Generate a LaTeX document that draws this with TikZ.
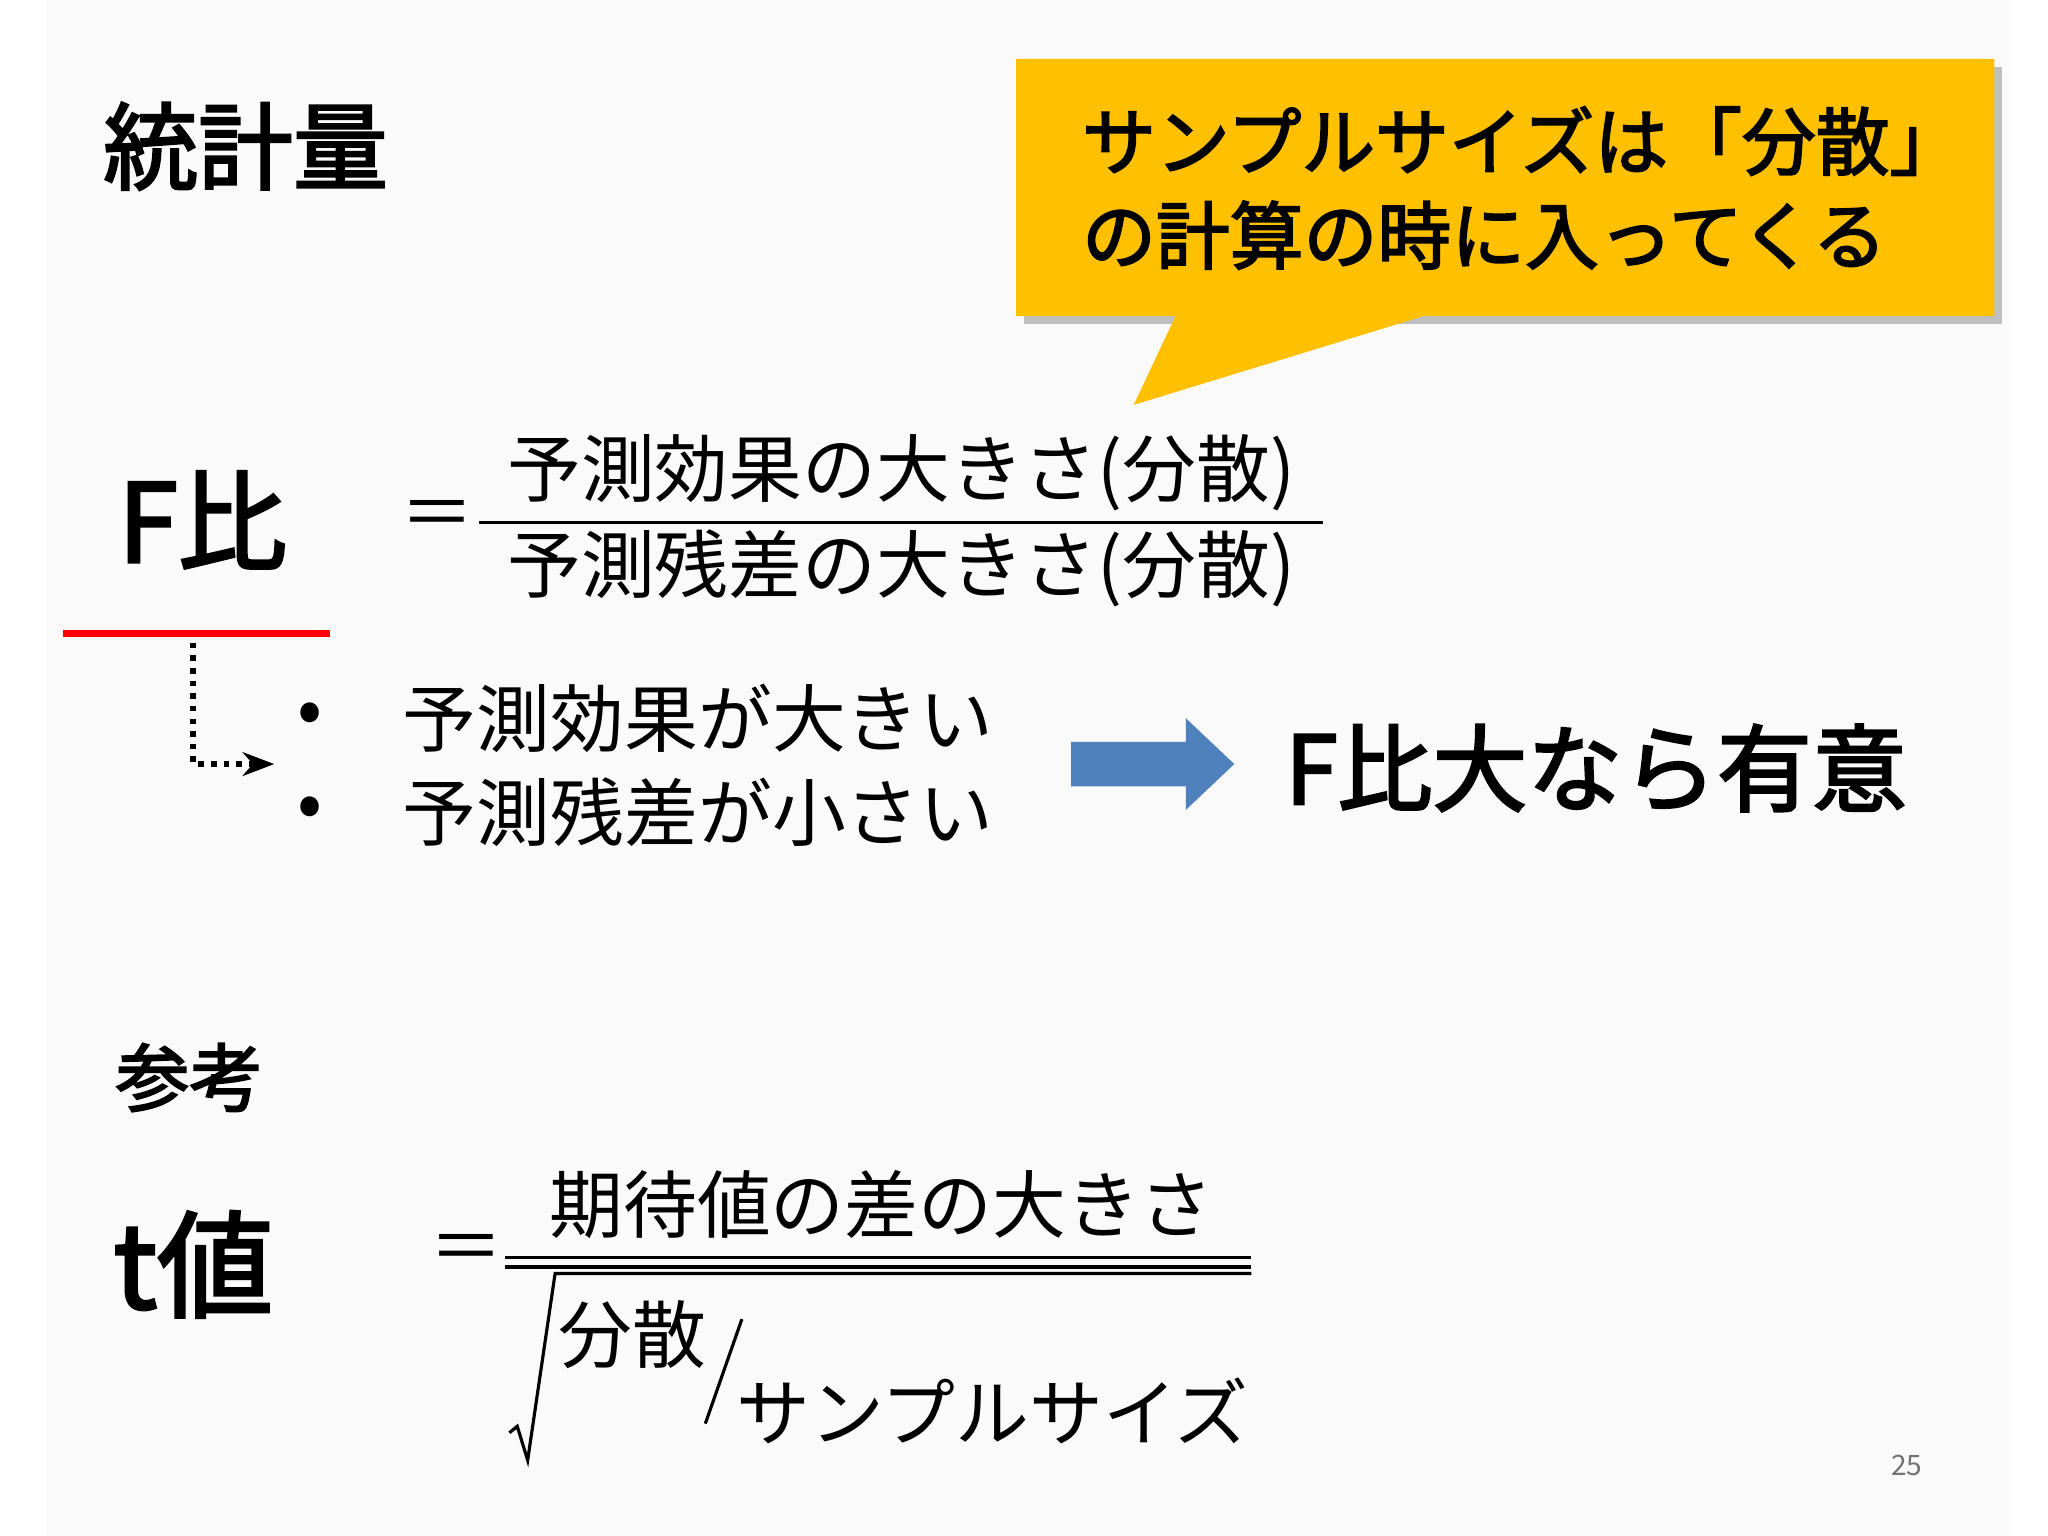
\documentclass[tikz,border=0pt]{standalone}
\usepackage{fontspec}
\setmainfont{Noto Sans CJK JP}
\newfontfamily\jpb{Noto Sans CJK JP}[FakeBold=2.5]
\usetikzlibrary{arrows.meta}
\definecolor{callout}{HTML}{FFC000}
\definecolor{bluearr}{HTML}{4F81BD}
\tikzset{
 tx/.style={inner sep=0pt,anchor=center},
 fs/.style={font=\fontsize{#1}{#1}\selectfont},
 bf/.style={font=\jpb\fontsize{#1}{#1}\selectfont},
}
\begin{document}
\begin{tikzpicture}[x=0.013061cm,y=-0.013061cm]
\useasboundingbox (0,0) rectangle (1568,1176);
\fill[white] (0,0) rectangle (1568,1176);
\fill[black!2] (35,0) rectangle (1540,1176);
% title
\node[tx,bf=27pt] (title) at (188,112) {統計量};
% callout
\fill[black!25] (784,51) -- (1533,51) -- (1533,248) -- (784,248) -- cycle;
\fill[callout] (778,45) -- (1527,45) -- (1527,242) -- (1090,242) -- (868,310) -- (900,242) -- (778,242) -- cycle;
\node[tx,anchor=west,bf=21pt,align=left] (c1) at (828,108) {サンプルサイズは「分散」};
\node[tx,anchor=west,bf=21pt,align=left] (c2) at (828,180) {の計算の時に入ってくる};
% F ratio
\node[tx,bf=31pt] (F) at (155,398) {F比};
\draw[red,line width=2.2pt] (48,485) -- (253,485);
\coordinate (d0) at (148,492);
\coordinate (d1) at (210,585);
\draw[dotted,line width=1.6pt,-{Stealth[length=9pt]}] (d0) |- (d1);
\node[tx,fs=21pt] (eq1) at (335,398) {＝};
\node[tx,fs=21pt] (num1) at (690,362) {予測効果の大きさ(分散)};
\node[tx,fs=21pt] (den1) at (690,435) {予測残差の大きさ(分散)};
\draw[line width=1pt] (367,400) -- (1013,400);
% bullets
\node[tx,fs=21pt] (b1) at (237,550) {•};
\node[tx,fs=21pt] (b2) at (237,622) {•};
\node[tx,anchor=west,fs=21pt] (t1) at (308,550) {予測効果が大きい};
\node[tx,anchor=west,fs=21pt] (t2) at (308,622) {予測残差が小さい};
\fill[bluearr] (820,568) -- (908,568) -- (908,550) -- (945,585) -- (908,620) -- (908,602) -- (820,602) -- cycle;
\node[tx,bf=27pt] (sig) at (1222,588) {F比大なら有意};
% reference
\node[tx,bf=21pt] (ref) at (145,825) {参考};
\node[tx,bf=33pt] (t) at (148,968) {t値};
\node[tx,fs=21pt] (eq2) at (357,960) {＝};
\node[tx,fs=21pt] (num2) at (675,922) {期待値の差の大きさ};
\draw[line width=0.9pt] (387,963) -- (958,963);
\draw[line width=0.9pt] (387,970) -- (958,970);
\draw[line width=0.9pt] (390,1097) -- (396,1092) -- (404,1118) -- (425,975) -- (958,975);
\node[tx,fs=21pt] (v) at (484,1022) {分散};
\draw[line width=0.9pt] (540,1090) -- (568,1010);
\node[tx,fs=21pt] (n) at (760,1080) {サンプルサイズ};
\node[tx,fs=8pt,text=black!55] (pg) at (1460,1122) {25};
\end{tikzpicture}
\end{document}
